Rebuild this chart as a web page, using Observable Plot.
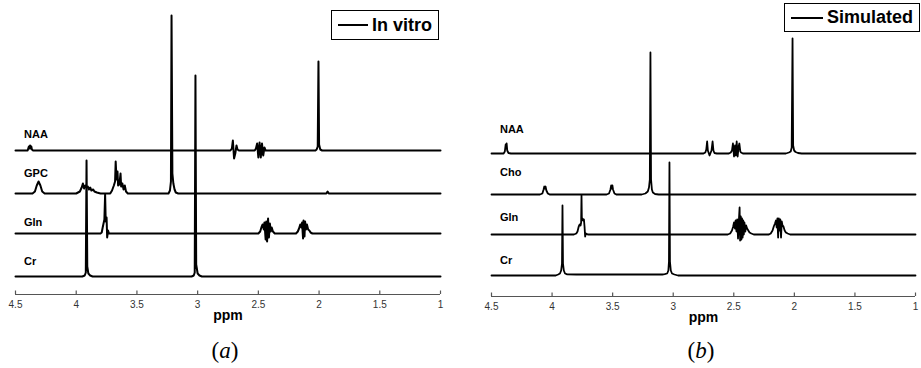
<!DOCTYPE html>
<html>
<head>
<meta charset="utf-8">
<script src="https://cdn.jsdelivr.net/npm/d3@7"></script>
<script src="https://cdn.jsdelivr.net/npm/@observablehq/plot@0.6"></script>
<style>
  html, body { margin: 0; padding: 0; background: #fff; }
  #wrap { position: relative; width: 921px; height: 368px; overflow: hidden; font-family: "Liberation Sans", Arial, sans-serif; }
  .panel { position: absolute; top: 0; }
  .legend { position: absolute; box-sizing: border-box; border: 1px solid #000; background: #fff; display: flex; align-items: center; font-weight: bold; font-size: 18px; color: #000; }
  .legend .sw { display: inline-block; height: 0; border-top: 2px solid #000; margin-right: 4px; }
  .cap { position: absolute; top: 336px; width: 60px; height: 30px; text-align: center; font-family: "Liberation Serif", "DejaVu Serif", serif; font-size: 23px; line-height: 30px; color: #000; }
</style>
</head>
<body>
<div id="wrap">
  <div id="pa" class="panel" style="left:0px"></div>
  <div id="pb" class="panel" style="left:460px"></div>
  <div class="legend" style="left:331px; top:10px; width:108px; height:30px; padding-left:6px;"><span class="sw" style="width:30px"></span>In vitro</div>
  <div class="legend" style="left:784px; top:3px; width:136px; height:29px; padding-left:6px;"><span class="sw" style="width:32px"></span>Simulated</div>
  <div class="cap" style="left:195px">(<i>a</i>)</div>
  <div class="cap" style="left:671px">(<i>b</i>)</div>
</div>
<script>
// ---------- data (ppm, intensity relative to each trace's baseline) ----------
const ppmTicks = [4.5, 4, 3.5, 3, 2.5, 2, 1.5, 1];

// (a) In vitro
const vitroNames = ["NAA", "GPC", "Gln", "Cr"];
const vitroOffsets = [144, 101, 61, 18];
const vitroLabelY = [157, 118, 69, 30];
const naaVitro = [[4.5,0],[4.40,0],[4.395,2],[4.39,4],[4.385,2],[4.38,5],[4.375,2],[4.37,4],[4.365,1],[4.355,0],
  [2.73,0],[2.718,2],[2.71,10],[2.70,-8],[2.69,-3],[2.68,5],[2.672,1],[2.66,0],
  [2.53,0],[2.52,2],[2.51,7],[2.50,-7],[2.49,8],[2.48,-7],[2.47,7],[2.46,-5],[2.45,3],[2.44,0],
  [2.03,0],[2.02,1],[2.011,4],[2.005,89],[2.0,6],[1.99,1],[1.975,0],[1,0]];
const gpcVitro = [[4.5,0],[4.36,0],[4.34,2],[4.325,8],[4.31,12],[4.295,8],[4.28,2],[4.26,0],
  [4.0,0],[3.97,2],[3.955,6],[3.945,10],[3.935,5],[3.925,8],[3.915,6],[3.905,7],[3.895,4],[3.885,6],[3.875,3],[3.86,4],[3.85,2],[3.83,1],[3.80,0],
  [3.72,0],[3.705,3],[3.69,8],[3.68,12],[3.675,32],[3.668,14],[3.66,22],[3.655,8],[3.645,9],[3.635,20],[3.63,7],[3.62,10],[3.61,4],[3.60,8],[3.59,2],[3.575,0],
  [3.24,0],[3.228,3],[3.22,12],[3.215,178],[3.208,20],[3.2,10],[3.19,4],[3.18,1],[3.16,0],
  [1.94,0],[1.93,2],[1.92,0],[1,0]];
const glnVitro = [[4.5,0],[3.80,0],[3.79,1],[3.782,6],[3.775,10],[3.768,14],[3.762,39],[3.757,12],[3.75,16],[3.745,-4],[3.738,3],[3.73,0],
  [2.50,0],[2.485,2],[2.475,6],[2.465,9],[2.455,4],[2.45,11],[2.44,-6],[2.435,12],[2.428,-8],[2.42,15],[2.413,-4],[2.405,10],[2.398,2],[2.39,6],[2.38,2],[2.365,0],
  [2.19,0],[2.175,2],[2.165,5],[2.155,9],[2.145,6],[2.14,11],[2.132,-5],[2.128,13],[2.12,-3],[2.115,12],[2.108,4],[2.10,9],[2.09,4],[2.08,3],[2.07,1],[2.055,0],[1,0]];
const crVitro = [[4.5,0],[3.95,0],[3.93,1],[3.921,4],[3.915,116],[3.909,10],[3.90,3],[3.885,1],[3.865,0],
  [3.05,0],[3.032,1],[3.024,4],[3.018,201],[3.012,12],[3.0,3],[2.985,1],[2.965,0],[1,0]];

// (b) Simulated
const simNames = ["NAA", "Cho", "Gln", "Cr"];
const simOffsets = [143, 102, 62, 21];
const simLabelY = [164, 121, 76, 33];
const naaSim = [[4.5,0],[4.40,0],[4.39,2],[4.383,9],[4.379,5],[4.375,10],[4.37,3],[4.36,0.5],[4.34,0],
  [2.75,0],[2.735,1],[2.727,4],[2.72,12],[2.714,3],[2.70,-2],[2.684,3],[2.675,12],[2.668,3],[2.66,0.5],[2.64,0],
  [2.54,0],[2.525,1],[2.515,3],[2.507,10],[2.498,-3],[2.49,8],[2.483,-2],[2.476,12],[2.468,-3],[2.46,7],[2.454,10],[2.446,2],[2.44,1],[2.425,0],
  [2.07,0],[2.045,1],[2.03,2],[2.022,6],[2.015,115],[2.01,8],[2.002,3],[1.99,1.5],[1.97,0.5],[1.94,0],[1,0]];
const choSim = [[4.5,0],[4.10,0],[4.08,1],[4.07,5],[4.064,8],[4.059,6],[4.054,8],[4.047,4],[4.035,1],[4.02,0],
  [3.55,0],[3.53,1],[3.518,5],[3.512,9],[3.507,6],[3.502,9],[3.497,5],[3.485,1],[3.47,0],
  [3.26,0],[3.23,1],[3.21,3],[3.20,7],[3.193,15],[3.188,142],[3.183,15],[3.176,5],[3.168,2],[3.15,0.5],[3.12,0],[1,0]];
const glnSim = [[4.5,0],[3.82,0],[3.80,1],[3.79,3],[3.78,8],[3.772,10],[3.765,9],[3.76,12],[3.757,39],[3.754,14],[3.748,16],[3.742,14],[3.737,15],[3.732,8],[3.727,-2],[3.72,1],[3.705,0],
  [2.55,0],[2.53,1],[2.515,4],[2.505,8],[2.498,12],[2.49,6],[2.485,14],[2.478,3],[2.472,15],[2.465,-4],[2.458,14],[2.452,27],[2.448,-6],[2.442,18],[2.437,-5],[2.432,16],[2.427,-3],[2.422,14],[2.417,0],[2.412,12],[2.405,3],[2.398,9],[2.39,6],[2.38,4],[2.37,2],[2.355,1],[2.335,0],
  [2.21,0],[2.195,1],[2.18,4],[2.17,8],[2.16,11],[2.152,14],[2.146,7],[2.14,16],[2.134,-3],[2.128,16],[2.122,4],[2.116,15],[2.11,-3],[2.104,13],[2.098,9],[2.09,8],[2.08,4],[2.07,2],[2.055,1],[2.035,0],[1,0]];
const crSim = [[4.5,0],[3.97,0],[3.95,1],[3.935,2],[3.925,5],[3.918,12],[3.914,70],[3.91,12],[3.903,5],[3.893,2],[3.875,1.2],[3.8,1],[3.5,1],
  [3.2,1],[3.09,1],[3.07,1.3],[3.05,2],[3.04,5],[3.035,14],[3.031,113],[3.027,14],[3.02,5],[3.01,2],[2.99,1],[2.96,0],[1,0]];

// ---------- drawing ----------
const SVG_H = 335;
function rows(names, offsets, traces) {
  const out = [];
  traces.forEach((t, i) => t.forEach(([p, v]) => out.push({trace: names[i], ppm: p, y: offsets[i] + v})));
  return out;
}
function panel({names, offsets, labelY, traces, width, marginLeft, marginRight, axisY, lw}) {
  const labels = names.map((n, i) => ({name: n, y: labelY[i]}));
  return Plot.plot({
    width, height: SVG_H,
    marginTop: 0, marginBottom: SVG_H - axisY, marginLeft, marginRight,
    style: {fontFamily: "'Liberation Sans', Arial, sans-serif", fontSize: "10px", color: "#222", background: "transparent"},
    x: {domain: [4.5, 1], axis: null},
    y: {domain: [0, axisY], axis: null},
    marks: [
      Plot.ruleY([0], {stroke: "#555", strokeWidth: 1.2}),
      Plot.ruleX(ppmTicks, {x: d => d, y1: 0, y2: 3.5, stroke: "#555", strokeWidth: 1.2}),
      Plot.axisX({ticks: ppmTicks, tickFormat: d => String(d), tickSize: 0, tickPadding: 6, fontSize: 10, fill: "#333", label: null}),
      Plot.line(rows(names, offsets, traces), {x: "ppm", y: "y", z: "trace", stroke: "#000", strokeWidth: lw, curve: "linear"}),
      Plot.text(labels, {x: 4.43, y: "y", text: "name", textAnchor: "start", lineAnchor: "bottom", fontWeight: "bold", fontSize: 11, fill: "#000"}),
      Plot.text(["ppm"], {frameAnchor: "bottom", dy: 25, fontWeight: "bold", fontSize: 14, fill: "#000"})
    ]
  });
}
document.getElementById("pa").appendChild(panel({
  names: vitroNames, offsets: vitroOffsets, labelY: vitroLabelY,
  traces: [naaVitro, gpcVitro, glnVitro, crVitro],
  width: 460, marginLeft: 15, marginRight: 20, axisY: 294, lw: 2
}));
document.getElementById("pb").appendChild(panel({
  names: simNames, offsets: simOffsets, labelY: simLabelY,
  traces: [naaSim, choSim, glnSim, crSim],
  width: 461, marginLeft: 31, marginRight: 6, axisY: 296, lw: 1.8
}));
</script>
</body>
</html>
